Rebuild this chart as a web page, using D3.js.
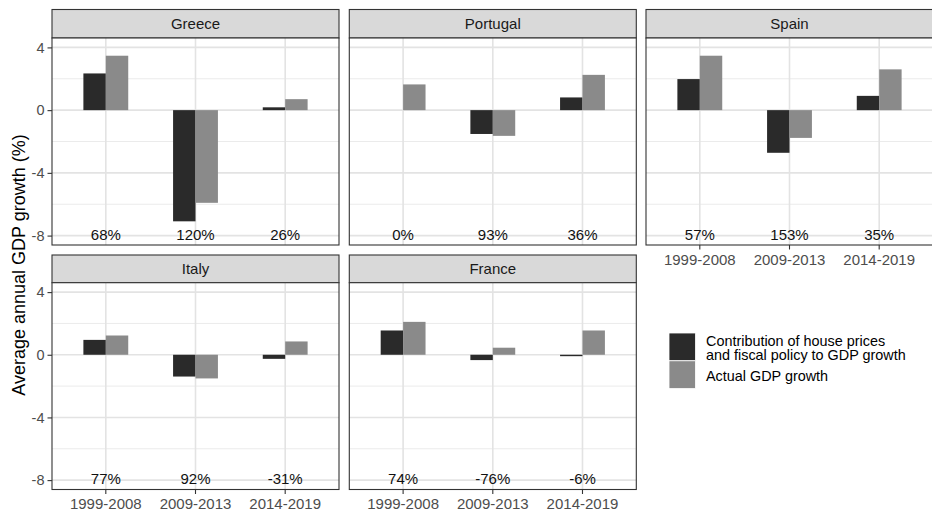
<!DOCTYPE html>
<html>
<head>
<meta charset="utf-8">
<script src="https://cdn.jsdelivr.net/npm/d3@7"></script>
<style>
  html, body { margin: 0; padding: 0; background: #fff; }
  svg { display: block; font-family: "Liberation Sans", Arial, Helvetica, sans-serif; }
</style>
</head>
<body>
<svg id="chart" width="932" height="512"></svg>
<script>
// Periods shown on every panel
const periods = ["1999-2008", "2009-2013", "2014-2019"];
// Countries in facet order
const countries = ["Greece", "Portugal", "Spain", "Italy", "France"];
// Average annual GDP growth (%) explained by house prices and fiscal policy
const contribution = {
  Greece:   [2.34, -7.09, 0.18],
  Portugal: [0.00, -1.52, 0.81],
  Spain:    [1.98, -2.72, 0.91],
  Italy:    [0.95, -1.39, -0.26],
  France:   [1.55, -0.34, -0.09]
};
// Actual average annual GDP growth (%)
const actual = {
  Greece:   [3.47, -5.91, 0.70],
  Portugal: [1.64, -1.64, 2.25],
  Spain:    [3.47, -1.77, 2.60],
  Italy:    [1.23, -1.51, 0.85],
  France:   [2.10, 0.45, 1.55]
};
// Share of actual growth accounted for by the contribution
const shareLabels = {
  Greece:   ["68%", "120%", "26%"],
  Portugal: ["0%", "93%", "36%"],
  Spain:    ["57%", "153%", "35%"],
  Italy:    ["77%", "92%", "-31%"],
  France:   ["74%", "-76%", "-6%"]
};
const seriesNames = ["Contribution of house prices\nand fiscal policy to GDP growth", "Actual GDP growth"];
const seriesColors = ["#2a2a2a", "#8a8a8a"];
const yTicks = [-8, -4, 0, 4];
const yMinor = [-6, -2, 2];
const labelLevel = -7.9;

const svg = d3.select("#chart");

// Facet grid geometry
const panelW = 287;
const colX = [52, 349.3, 646];
const rows = [
  { stripTop: 9.5, plotTop: 38, plotBottom: 245 },
  { stripTop: 255, plotTop: 282.7, plotBottom: 489.5 }
];

// Discrete axis with ggplot-like expansion: band centres at 0.6 + i units, unit = panelW / 3.2
const x = d3.scalePoint().domain(periods).range([0.6, 2.6]);
const unit = panelW / 3.2;
const xc = p => unit * x(p);
const barW = unit * 0.25;

countries.forEach((c, i) => {
  const r = rows[Math.floor(i / 3)];
  const col = i % 3;
  const left = colX[col];
  const hasXAxis = (i >= 2);
  const hasYAxis = (col === 0);

  const y = d3.scaleLinear().domain([-8.6, 4.6]).range([r.plotBottom, r.plotTop]);
  const g = svg.append("g").attr("transform", `translate(${left},0)`);

  // strip
  g.append("rect")
    .attr("x", 0).attr("y", r.stripTop)
    .attr("width", panelW).attr("height", r.plotTop - r.stripTop)
    .attr("fill", "#d9d9d9").attr("stroke", "#333").attr("stroke-width", 1.1);
  g.append("text")
    .attr("x", panelW / 2).attr("y", (r.stripTop + r.plotTop) / 2)
    .attr("text-anchor", "middle").attr("dominant-baseline", "central")
    .attr("font-size", 15).attr("fill", "#1a1a1a").text(c);

  // panel background
  g.append("rect")
    .attr("x", 0).attr("y", r.plotTop)
    .attr("width", panelW).attr("height", r.plotBottom - r.plotTop)
    .attr("fill", "#fff");

  // grid lines
  g.selectAll(".minor").data(yMinor).join("line")
    .attr("x1", 0).attr("x2", panelW)
    .attr("y1", d => y(d)).attr("y2", d => y(d))
    .attr("stroke", "#ebebeb").attr("stroke-width", 1);
  g.selectAll(".major").data(yTicks).join("line")
    .attr("x1", 0).attr("x2", panelW)
    .attr("y1", d => y(d)).attr("y2", d => y(d))
    .attr("stroke", "#e3e3e3").attr("stroke-width", 1.6);
  g.selectAll(".vmajor").data(periods).join("line")
    .attr("x1", d => xc(d)).attr("x2", d => xc(d))
    .attr("y1", r.plotTop).attr("y2", r.plotBottom)
    .attr("stroke", "#e3e3e3").attr("stroke-width", 1.6);

  // bars
  const rowsData = periods.flatMap((p, k) => [
    { p, s: 0, v: contribution[c][k] },
    { p, s: 1, v: actual[c][k] }
  ]);
  g.selectAll(".bar").data(rowsData).join("rect")
    .attr("x", d => xc(d.p) - barW + d.s * barW)
    .attr("width", barW)
    .attr("y", d => y(Math.max(0, d.v)))
    .attr("height", d => Math.abs(y(d.v) - y(0)))
    .attr("fill", d => seriesColors[d.s]);

  // share labels
  g.selectAll(".lab").data(periods).join("text")
    .attr("x", d => xc(d)).attr("y", y(labelLevel))
    .attr("text-anchor", "middle").attr("dominant-baseline", "central")
    .attr("font-size", 15).attr("fill", "#111")
    .text((d, k) => shareLabels[c][k]);

  // panel border
  g.append("rect")
    .attr("x", 0).attr("y", r.plotTop)
    .attr("width", panelW).attr("height", r.plotBottom - r.plotTop)
    .attr("fill", "none").attr("stroke", "#333").attr("stroke-width", 1.1);

  if (hasYAxis) {
    const ay = g.append("g").call(
      d3.axisLeft(y).tickValues(yTicks).tickFormat(d => String(d)).tickSize(4.5).tickPadding(3)
    );
    ay.select(".domain").remove();
    ay.selectAll("line").attr("stroke", "#333").attr("stroke-width", 1.1);
    ay.selectAll("text").attr("font-size", 14.5).attr("fill", "#4d4d4d")
      .style("font-family", "'Liberation Sans', Arial, sans-serif");
  }
  if (hasXAxis) {
    const ax = g.append("g").attr("transform", `translate(0,${r.plotBottom})`);
    ax.selectAll("line").data(periods).join("line")
      .attr("x1", d => xc(d)).attr("x2", d => xc(d))
      .attr("y1", 0).attr("y2", 4.5).attr("stroke", "#333").attr("stroke-width", 1.1);
    ax.selectAll("text").data(periods).join("text")
      .attr("x", d => xc(d)).attr("y", 14)
      .attr("text-anchor", "middle").attr("dominant-baseline", "central")
      .attr("font-size", 15).attr("fill", "#4d4d4d").text(d => d);
  }
});

// y axis title
svg.append("text")
  .attr("transform", "translate(19,265) rotate(-90)")
  .attr("text-anchor", "middle").attr("dominant-baseline", "central")
  .attr("font-size", 18).attr("fill", "#000")
  .text("Average annual GDP growth (%)");

// legend
const legend = svg.append("g").attr("transform", "translate(669,333)");
const keyH = 27.8, keyW = 26.5;
seriesNames.forEach((name, k) => {
  legend.append("rect")
    .attr("x", 0).attr("y", k * keyH)
    .attr("width", keyW).attr("height", keyH)
    .attr("fill", seriesColors[k]).attr("stroke", "#fff").attr("stroke-width", 0.8);
  const lines = name.split("\n");
  const t = legend.append("text")
    .attr("x", 37).attr("font-size", 14.4).attr("fill", "#000");
  lines.forEach((ln, j) => {
    t.append("tspan")
      .attr("x", 37)
      .attr("y", k * keyH + keyH / 2 + (j - (lines.length - 1) / 2) * 14.4 + 1)
      .attr("dominant-baseline", "central")
      .text(ln);
  });
});
</script>
</body>
</html>
